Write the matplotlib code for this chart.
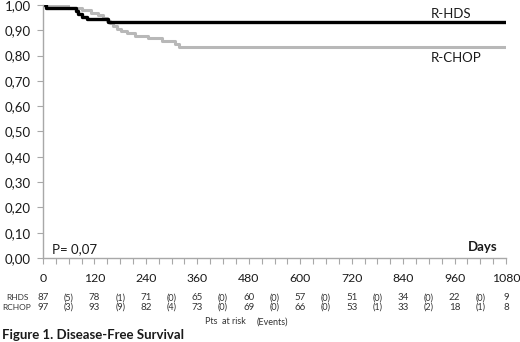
import matplotlib
matplotlib.use("Agg")
import matplotlib.pyplot as plt
import matplotlib.transforms as mtransforms
from matplotlib.ticker import MultipleLocator, FuncFormatter

plt.rcParams['font.family'] = ['Lato', 'DejaVu Sans']

# Kaplan-Meier steps (days, survival)
rhds_days = [0, 8, 77, 82, 91, 103, 152, 1080]
rhds_surv = [1.00, 0.989, 0.977, 0.966, 0.954, 0.943, 0.931, 0.931]

rchop_days = [0, 58, 90, 112, 128, 140, 149, 156, 164, 172, 182, 195, 215,
              245, 277, 308, 317, 1080]
rchop_surv = [1.00, 0.990, 0.979, 0.969, 0.959, 0.948, 0.938, 0.928, 0.918,
              0.907, 0.897, 0.888, 0.879, 0.868, 0.858, 0.847, 0.835, 0.835]

# patients at risk table
risk_days = [0, 120, 240, 360, 480, 600, 720, 840, 960, 1080]
rhds_risk = [87, 78, 71, 65, 60, 57, 51, 34, 22, 9]
rchop_risk = [97, 93, 82, 73, 69, 66, 53, 33, 18, 8]
event_days = [60, 180, 300, 420, 540, 660, 780, 900, 1020]
rhds_events = [5, 1, 0, 0, 0, 0, 0, 0, 0]
rchop_events = [3, 9, 4, 0, 0, 0, 1, 2, 1]

fig = plt.figure(figsize=(5.2, 3.42), dpi=100)
ax = fig.add_axes([43/520, 1 - 258/342, (506 - 43)/520, (258 - 5)/342])

ax.step(rchop_days, rchop_surv, where='post', color='#b8b8b8', lw=2.2)
ax.step(rhds_days, rhds_surv, where='post', color='black', lw=2.4)

ax.set_xlim(0, 1080)
ax.set_ylim(0, 1.0)
ax.xaxis.set_major_locator(MultipleLocator(120))
ax.xaxis.set_minor_locator(MultipleLocator(30))
ax.yaxis.set_major_locator(MultipleLocator(0.1))
ax.yaxis.set_major_formatter(FuncFormatter(lambda v, p: f"{v:.2f}".replace('.', ',')))

for s in ['top', 'right']:
    ax.spines[s].set_visible(False)
for s in ['left', 'bottom']:
    ax.spines[s].set_color('#a8a8a8')
    ax.spines[s].set_linewidth(1.0)
ax.tick_params(which='both', direction='out', length=4, width=0.8,
               color='#a8a8a8', labelcolor='#1a1a1a')
ax.tick_params(axis='x', pad=7, labelsize=8.8)
ax.tick_params(axis='y', pad=5, labelsize=9.5)

ax.text(905, 0.965, 'R-HDS', fontsize=9.5, va='center', color='#1a1a1a')
ax.text(905, 0.79, 'R-CHOP', fontsize=9.5, va='center', color='#1a1a1a')
ax.text(20, 0.035, 'P= 0,07', fontsize=9.5, va='center', color='#1a1a1a')
ax.text(1060, 0.045, 'Days', fontsize=9.5, fontweight='bold', ha='right',
        va='center', color='#1a1a1a')

tr = mtransforms.blended_transform_factory(ax.transData, fig.transFigure)
y1 = 1 - 298/342
y2 = 1 - 307/342
fig.text(17/520, y1, 'RHDS', fontsize=6, ha='center', va='center', color='#333333')
fig.text(17/520, y2, 'RCHOP', fontsize=6, ha='center', va='center', color='#333333')
for d, a, b in zip(risk_days, rhds_risk, rchop_risk):
    ax.text(d, y1, str(a), transform=tr, fontsize=7, ha='center', va='center',
            color='#333333', clip_on=False)
    ax.text(d, y2, str(b), transform=tr, fontsize=7, ha='center', va='center',
            color='#333333', clip_on=False)
for d, a, b in zip(event_days, rhds_events, rchop_events):
    ax.text(d, y1, f"({a})", transform=tr, fontsize=6.5, ha='center', va='center',
            color='#333333', clip_on=False)
    ax.text(d, y2, f"({b})", transform=tr, fontsize=6.5, ha='center', va='center',
            color='#333333', clip_on=False)

fig.text(205/520, 1 - 322/342, 'Pts  at risk', fontsize=6.5, va='center', color='#333333')
fig.text(257/520, 1 - 322/342, '(Events)', fontsize=6.5, va='center', color='#333333')
fig.text(2/520, 1 - 335/342, 'Figure 1. Disease-Free Survival', fontsize=9.5,
         fontweight='bold', va='center', color='#1a1a1a')

fig.savefig('out.png', dpi=100)
